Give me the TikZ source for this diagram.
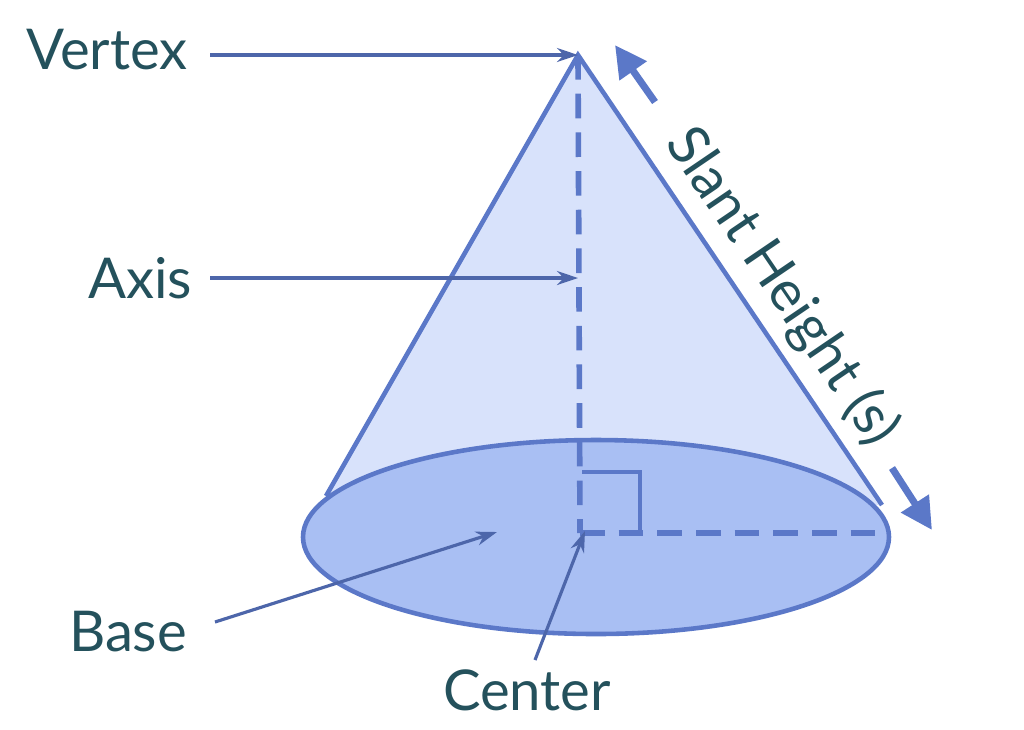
\documentclass[tikz,border=0pt]{standalone}
\usepackage{fontspec}
\setmainfont{Lato}
\usetikzlibrary{arrows.meta,positioning,calc}
\definecolor{labelcol}{HTML}{24515C}
\definecolor{edgecol}{HTML}{5B78C8}
\definecolor{conefill}{HTML}{D8E2FB}
\definecolor{basefill}{HTML}{A9BFF3}
\begin{document}
\begin{tikzpicture}[
  x=0.01cm, y=-0.01cm,
  lbl/.style={font=\fontsize{16}{18}\selectfont, text=labelcol, inner sep=0pt},
  ptr/.style={-{Stealth[length=6pt,width=4pt]}, edgecol!85!black, line width=0.9pt},
  edge/.style={edgecol, line width=1.3pt},
  dashline/.style={edgecol, line width=1.6pt, dash pattern=on 7pt off 4pt},
  slant/.style={-{Triangle[length=9pt,width=9pt]}, edgecol, line width=2pt},
]
\useasboundingbox (0,0) rectangle (1024,729);
% ── Cone ──
\coordinate (vertex) at (578,55);
\coordinate (center) at (580,533);
\coordinate (rim) at (890,533);
\fill[conefill] (vertex) -- (326,500) -- (880,505) -- cycle;
\fill[basefill] (596,537) ellipse [x radius=293, y radius=97];
\draw[edge] (596,537) ellipse [x radius=293, y radius=97];
\draw[edge] (326,496) -- (vertex) -- (882,505);
\draw[dashline] (vertex) -- (center);
\draw[dashline] (center) -- (rim);
\draw[edge] (582,472) -- (640,472) -- (640,533);
% ── Labels ──
\node[lbl] (vtx) at (107,50) {Vertex};
\node[lbl] (axis) at (140,278) {Axis};
\node[lbl] (base) at (128,632) {Base};
\node[lbl] (ctr) at (527,690) {Center};
\node[lbl, rotate=-55.8] (sl) at (782,287) {Slant Height (s)};
\coordinate (axispt) at (578,278);
\coordinate (basept) at (497,532);
% ── Pointers ──
\draw[ptr] (210,55) -- (vertex);
\draw[ptr] (210,278) -- (axispt);
\draw[ptr] (215,622) -- (basept);
\draw[ptr] (535,660) -- ($(center)+(5,-2)$);
\draw[slant] (655,102) -- (615,45);
\draw[slant] (892,468) -- (932,530);
\end{tikzpicture}
\end{document}
